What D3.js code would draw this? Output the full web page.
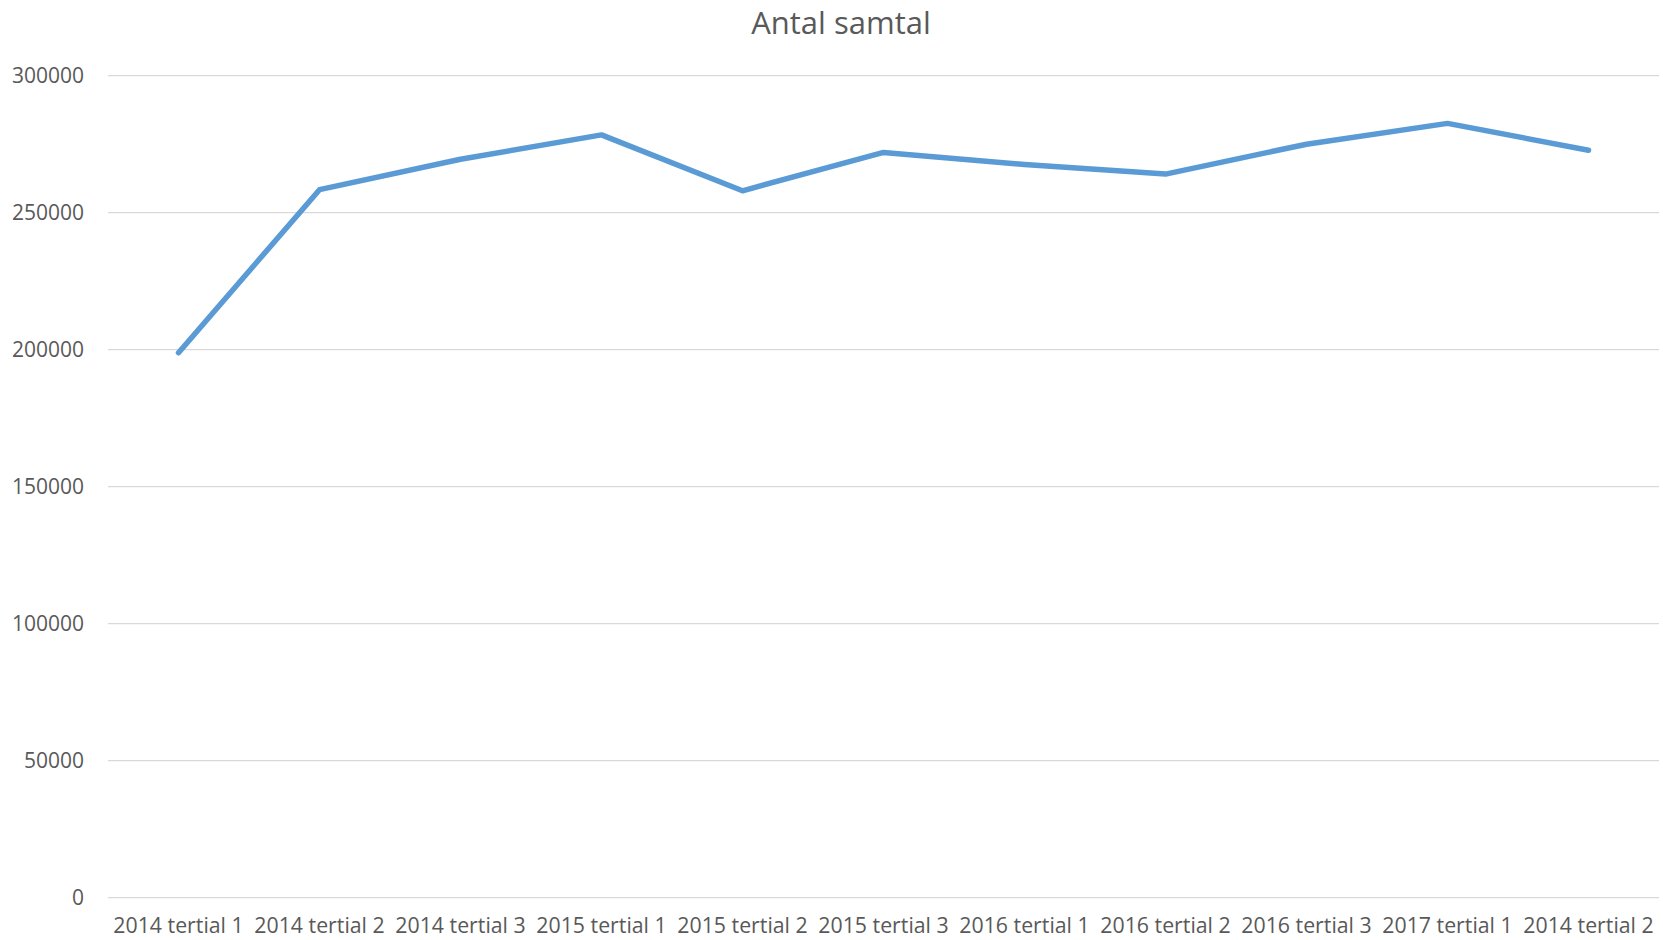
<!DOCTYPE html>
<html>
<head>
<meta charset="utf-8">
<script src="https://cdn.jsdelivr.net/npm/d3@7/dist/d3.min.js"></script>
<style>
  html, body { margin: 0; padding: 0; background: #fff; }
  svg { display: block; font-family: "Open Sans", sans-serif; }
</style>
</head>
<body>
<svg id="chart" width="1663" height="940"></svg>
<script>
const title = "Antal samtal";
const categories = ["2014 tertial 1", "2014 tertial 2", "2014 tertial 3", "2015 tertial 1", "2015 tertial 2", "2015 tertial 3", "2016 tertial 1", "2016 tertial 2", "2016 tertial 3", "2017 tertial 1", "2014 tertial 2"];
const values = [198900, 258400, 269500, 278400, 258000, 272000, 267600, 264100, 275000, 282600, 272800];
const yTicks = [0, 50000, 100000, 150000, 200000, 250000, 300000];

const svg = d3.select("#chart");
const margin = { left: 108, right: 4, top: 75.7, bottom: 42.3 };
const W = 1663, H = 940;
const plotW = W - margin.left - margin.right;
const plotH = H - margin.top - margin.bottom;

const x = d3.scaleBand().domain(d3.range(categories.length)).range([margin.left, margin.left + plotW]).paddingInner(0).paddingOuter(0);
const y = d3.scaleLinear().domain([0, 300000]).range([margin.top + plotH, margin.top]);

// gridlines
svg.append("g").selectAll("line").data(yTicks).join("line")
  .attr("x1", margin.left).attr("x2", margin.left + plotW)
  .attr("y1", d => y(d)).attr("y2", d => y(d))
  .attr("stroke", "#d9d9d9").attr("stroke-width", 1.3);

// y axis labels
const yAxis = d3.axisLeft(y).tickValues(yTicks).tickSize(0).tickPadding(24).tickFormat(d3.format("d"));
const yg = svg.append("g").attr("transform", `translate(${margin.left},0)`).call(yAxis);
yg.select(".domain").remove();
yg.selectAll("text").attr("fill", "#595959").style("font-size", "21px").style("font-family", "'Open Sans', sans-serif");

// x axis labels
const xAxis = d3.axisBottom(x).tickSize(0).tickPadding(20).tickFormat(i => categories[i]);
const xg = svg.append("g").attr("transform", `translate(0,${margin.top + plotH})`).call(xAxis);
xg.select(".domain").remove();
xg.selectAll("text").attr("fill", "#595959").style("font-size", "21.3px").style("font-family", "'Open Sans', sans-serif");

// line
const line = d3.line().x((d, i) => x(i) + x.bandwidth() / 2).y(d => y(d));
svg.append("path").datum(values)
  .attr("d", line)
  .attr("fill", "none")
  .attr("stroke", "#5b9bd5")
  .attr("stroke-width", 5.5)
  .attr("stroke-linejoin", "round")
  .attr("stroke-linecap", "round");

// title
svg.append("text").attr("x", 841).attr("y", 34)
  .attr("text-anchor", "middle")
  .attr("fill", "#595959")
  .style("font-size", "31px")
  .text(title);
</script>
</body>
</html>
